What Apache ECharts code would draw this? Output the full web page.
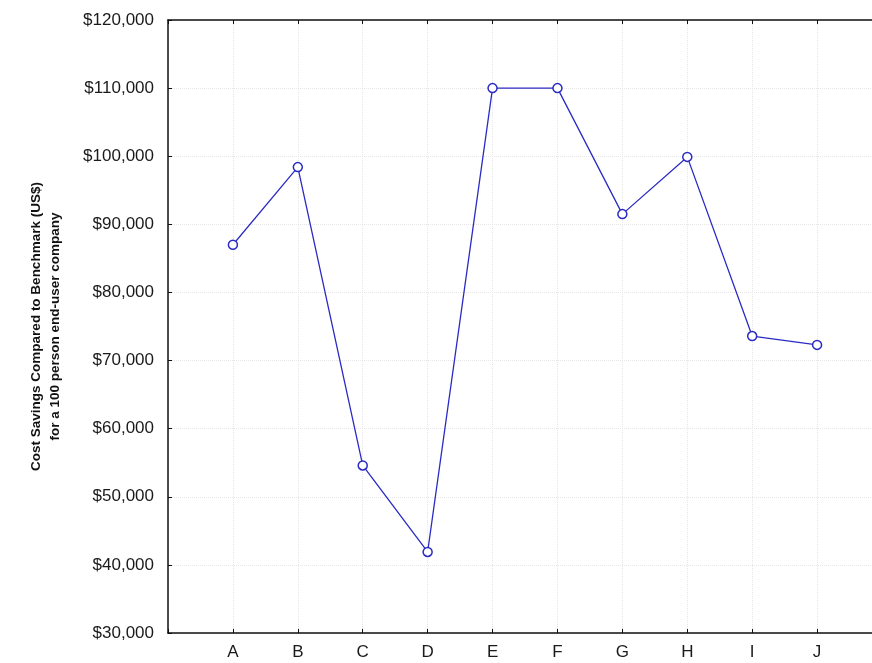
<!DOCTYPE html>
<html>
<head>
<meta charset="utf-8">
<script src="https://cdn.jsdelivr.net/npm/echarts@6/dist/echarts.min.js"></script>
<style>html,body{margin:0;padding:0;background:#fff;overflow:hidden}#c{width:872px;height:663px}</style>
</head>
<body>
<div id="c"></div>
<script>
var categories = ['A','B','C','D','E','F','G','H','I','J'];
var savings = [87000, 98400, 54600, 41900, 110000, 110000, 91500, 99900, 73600, 72300];
var yTitleLines = ['Cost Savings Compared to Benchmark (US$)', 'for a 100 person end-user company'];

// pad categories with blank slots at both ends so the axis spans 0..11
var axisCats = [''].concat(categories, ['']);
var axisData = [null].concat(savings, [null]);

var chart = echarts.init(document.getElementById('c'));
var font = 'Liberation Sans, Arial, sans-serif';
chart.setOption({
  animation: false,
  grid: { left: 168, width: 714, top: 20, height: 613, containLabel: false, outerBoundsMode: 'none' },
  xAxis: [{
    type: 'category', data: axisCats, boundaryGap: false, position: 'bottom',
    axisLine: { lineStyle: { color: '#111', width: 1.5 } },
    axisTick: { inside: true, length: 4, lineStyle: { color: '#111' }, interval: 0 },
    axisLabel: { color: '#1a1a1a', fontFamily: font, fontSize: 17, margin: 11, interval: 0 },
    splitLine: { show: true, interval: 0, lineStyle: { type: 'dotted', color: '#e6e6e6' } }
  }, {
    type: 'category', data: axisCats, boundaryGap: false, position: 'top',
    axisLine: { lineStyle: { color: '#111', width: 1.5 } },
    axisTick: { inside: true, length: 4, lineStyle: { color: '#111' }, interval: 0 },
    axisLabel: { show: false }, splitLine: { show: false }
  }],
  yAxis: {
    type: 'value', min: 30000, max: 120000, interval: 10000,
    axisLine: { show: true, lineStyle: { color: '#111', width: 1.5 } },
    axisTick: { show: true, inside: true, length: 4, lineStyle: { color: '#111' } },
    axisLabel: {
      color: '#1a1a1a', fontFamily: font, fontSize: 17, margin: 14,
      formatter: function (v) { return '$' + v.toLocaleString('en-US'); }
    },
    splitLine: { show: true, lineStyle: { type: 'dotted', color: '#e6e6e6' } },
    name: yTitleLines.join('\n'), nameLocation: 'middle', nameGap: 103, nameRotate: 90,
    nameTextStyle: { color: '#111', fontFamily: font, fontSize: 13.5, fontWeight: 'bold', lineHeight: 19 }
  },
  series: [{
    type: 'line', data: axisData, xAxisIndex: 0,
    symbol: 'circle', symbolSize: 9, showAllSymbol: true,
    lineStyle: { color: '#2b2bc4', width: 1.3 },
    itemStyle: { color: '#ffffff', borderColor: '#2b2bc4', borderWidth: 1.5 }
  }]
});
</script>
</body>
</html>
